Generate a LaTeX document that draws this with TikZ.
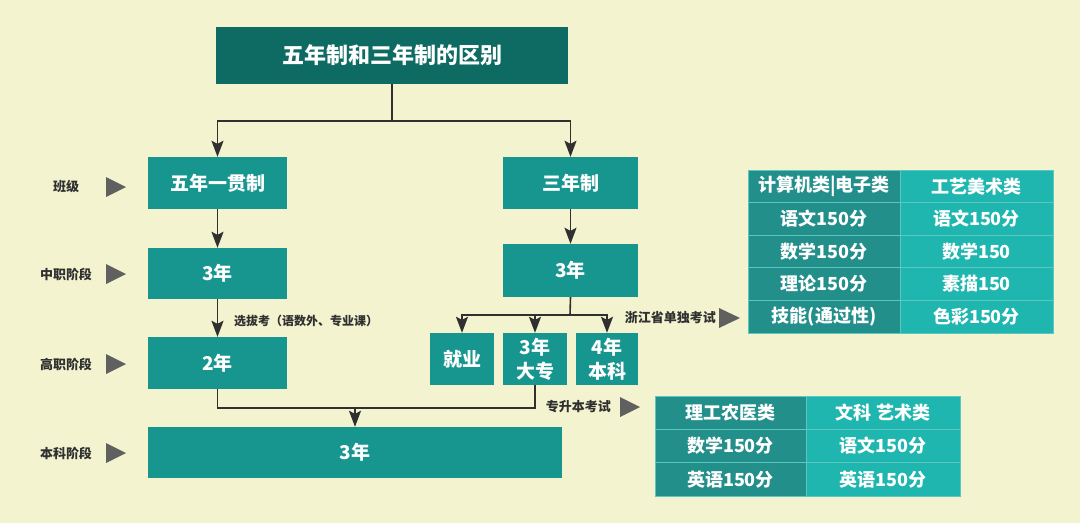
\documentclass[tikz,border=0pt]{standalone}
\usepackage{fontspec}
\setmainfont{Noto Sans CJK SC}
\usetikzlibrary{arrows.meta}
\definecolor{pagecream}{HTML}{F3F3D0}
\definecolor{titleteal}{HTML}{0D6B63}
\definecolor{boxteal}{HTML}{17958F}
\definecolor{tabledark}{HTML}{238F8B}
\definecolor{tablelight}{HTML}{1FB6B0}
\definecolor{tablerule}{HTML}{5BC7C1}
\definecolor{flowink}{HTML}{303030}
\definecolor{markgray}{HTML}{606060}
\tikzset{
  title box/.style={
    rectangle, fill=titleteal, text=white, inner sep=0pt,
    font=\fontsize{22}{25}\selectfont\bfseries
  },
  stage box/.style={
    rectangle, fill=boxteal, text=white, inner sep=0pt, align=center,
    font=\fontsize{19}{24}\selectfont\bfseries
  },
  table cell/.style={
    rectangle, draw=tablerule, line width=0.8pt, text=white, inner sep=0pt,
    font=\fontsize{18}{20}\selectfont\bfseries
  },
  flow line/.style={
    draw=flowink, line width=1.6pt
  },
  flow arrow/.style={
    flow line, -{Stealth[length=16pt,width=12pt,inset=3pt]}
  },
  side label/.style={
    text=flowink, inner sep=0pt,
    font=\fontsize{13}{15}\selectfont\bfseries
  }
}

\begin{document}
\begin{tikzpicture}[x=1pt,y=-1pt]
  \fill[pagecream] (0,0) rectangle (1080,523);
  \useasboundingbox (0,0) rectangle (1080,523);

  % title and the two school systems
  \node[title box, minimum width=352pt, minimum height=57pt] (title) at (392,55.5) {五年制和三年制的区别};
  \node[stage box, minimum width=139pt, minimum height=52pt] (five) at (217.5,183) {五年一贯制};
  \node[stage box, minimum width=135pt, minimum height=52pt] (three) at (570.5,183) {三年制};

  % five-year branch
  \node[stage box, minimum width=139pt, minimum height=51pt] (fiveA) at (217.5,273.5) {3年};
  \node[stage box, minimum width=139pt, minimum height=52pt] (fiveB) at (217.5,363) {2年};

  % three-year branch
  \node[stage box, minimum width=135pt, minimum height=53pt] (threeA) at (570.5,270.5) {3年};
  \node[stage box, minimum width=64pt, minimum height=52pt] (job) at (462,359) {就业};
  \node[stage box, minimum width=64pt, minimum height=52pt] (college) at (535,359) {3年\\大专};
  \node[stage box, minimum width=62pt, minimum height=52pt] (bachelor) at (607,359) {4年\\本科};

  % undergraduate stage
  \node[stage box, minimum width=414pt, minimum height=51pt] (degree) at (355,452.5) {3年};

  % connectors
  \coordinate (split) at (392,121);
  \draw[flow line] (title.south) -- (split);
  \draw[flow arrow] (split) -| (five.north);
  \draw[flow arrow] (split) -| (three.north);
  \draw[flow arrow] (five) -- (fiveA);
  \draw[flow arrow] (fiveA) -- (fiveB);
  \draw[flow arrow] (three) -- (threeA);
  \coordinate (fork) at (570,315);
  \draw[flow line] (threeA.south) -- (fork);
  \draw[flow arrow] (fork) -| (job.north);
  \draw[flow arrow] (fork) -| (college.north);
  \draw[flow arrow] (fork) -| (bachelor.north);
  \coordinate (join) at (355,408);
  \draw[flow line] (fiveB.south) |- (join);
  \draw[flow line] (college.south) |- (join);
  \draw[flow arrow] (join) -- (degree.north);

  \node[side label, anchor=west, font=\fontsize{12}{14}\selectfont\bfseries] (pick) at (234,321) {选拔考（语数外、专业课）};

  % stage labels on the left
  \foreach \name/\txt/\y in {lclass/班级/187, lmid/中职阶段/274, lhigh/高职阶段/364, lbach/本科阶段/453} {
    \node[side label] (\name) at (66,\y) {\txt};
    \fill[markgray] (106,\y-10) -- (126,\y) -- (106,\y+10) -- cycle;
  }

  % exam labels
  \node[side label, anchor=east] (zjexam) at (716,318) {浙江省单独考试};
  \fill[markgray] (719,308) -- (740,318) -- (719,328) -- cycle;
  \node[side label, anchor=east] (upexam) at (611,407) {专升本考试};
  \fill[markgray] (620,397) -- (640,407) -- (620,417) -- cycle;

  % table of the single exam
  \foreach \r/\left/\right in {0/计算机类|电子类/工艺美术类, 1/语文150分/语文150分, 2/数学150分/数学150, 3/理论150分/素描150, 4/技能(通过性)/色彩150分} {
    \node[table cell, fill=tabledark, minimum width=152pt, minimum height=32.6pt] (ta-\r-1) at (824,186.3+32.6*\r) {\left};
    \node[table cell, fill=tablelight, minimum width=153pt, minimum height=32.6pt] (ta-\r-2) at (976.5,186.3+32.6*\r) {\right};
  }

  % table of the upgrade exam
  \foreach \r/\left/\right in {0/理工农医类/文科 艺术类, 1/数学150分/语文150分, 2/英语150分/英语150分} {
    \node[table cell, fill=tabledark, minimum width=151pt, minimum height=33.3pt] (tb-\r-1) at (730.5,412.7+33.3*\r) {\left};
    \node[table cell, fill=tablelight, minimum width=154pt, minimum height=33.3pt] (tb-\r-2) at (883,412.7+33.3*\r) {\right};
  }
\end{tikzpicture}
\end{document}
